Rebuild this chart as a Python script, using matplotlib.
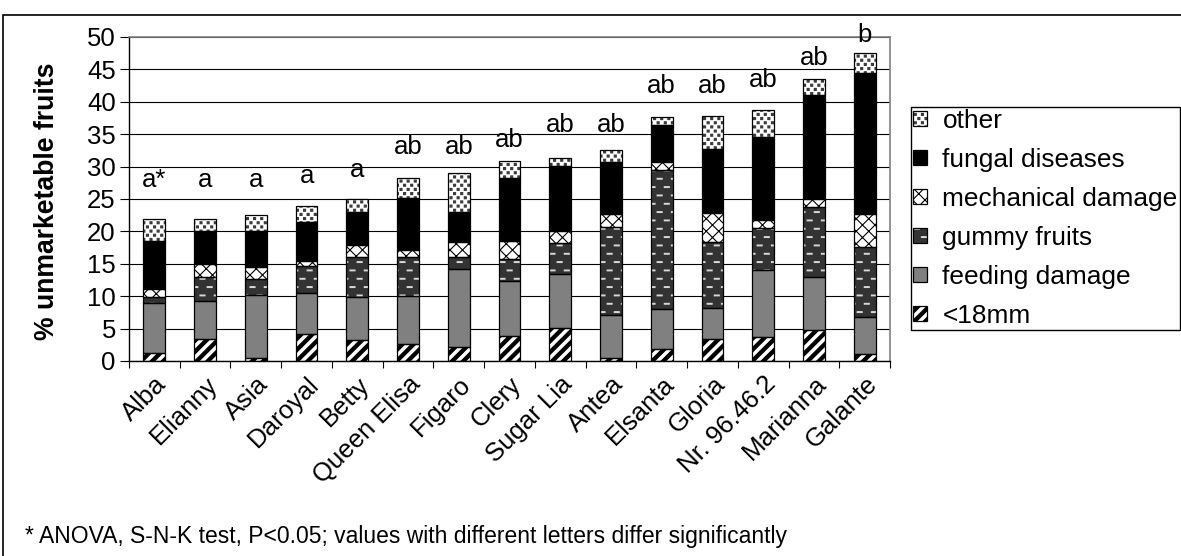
#!/usr/bin/env python3
"""Stacked bars of unmarketable strawberry fruits per cultivar."""

import warnings
import matplotlib
matplotlib.use('Agg')
import matplotlib.pyplot as plt
import matplotlib.hatch as mhatch
from matplotlib.path import Path
from matplotlib.patches import Rectangle
from matplotlib.legend_handler import HandlerTuple
import numpy as np

warnings.filterwarnings('ignore')

cultivars = ['Alba', 'Elianny', 'Asia', 'Daroyal', 'Betty', 'Queen Elisa', 'Figaro',
             'Clery', 'Sugar Lia', 'Antea', 'Elsanta', 'Gloria', 'Nr. 96.46.2',
             'Marianna', 'Galante']
small_18mm = [1.2, 3.4, 0.4, 4.1, 3.2, 2.7, 2.2, 3.9, 5.1, 0.4, 1.8, 3.4, 3.7, 4.8, 1.1]
feeding = [7.8, 5.8, 9.8, 6.4, 6.6, 7.4, 12.0, 8.4, 8.3, 6.7, 6.2, 4.8, 10.3, 8.2, 5.7]
gummy = [0.8, 3.8, 2.4, 4.1, 6.2, 5.9, 1.8, 3.4, 4.8, 13.6, 21.5, 10.2, 6.5, 10.7, 10.8]
mechanical = [1.3, 2.0, 1.9, 0.9, 1.9, 1.1, 2.3, 2.8, 1.9, 2.0, 1.2, 4.5, 1.3, 1.3, 5.1]
fungal = [7.4, 5.0, 5.6, 6.0, 5.1, 8.1, 4.7, 9.8, 10.0, 8.0, 5.7, 9.8, 12.8, 16.1, 21.7]
other = [3.4, 1.9, 2.5, 2.4, 2.0, 3.1, 6.0, 2.5, 1.3, 1.8, 1.2, 5.1, 4.1, 2.4, 3.1]
letters = ['a*', 'a', 'a', 'a', 'a', 'ab', 'ab', 'ab', 'ab', 'ab', 'ab', 'ab', 'ab', 'ab', 'b']
# height (in %) at which each significance letter sits
letter_heights = [26.8, 26.8, 26.8, 27.4, 28.4, 31.9, 31.9, 33.1, 35.4, 35.4,
                  41.3, 41.3, 42.3, 45.7, 49.3]
footnote = '* ANOVA, S-N-K test, P<0.05; values with different letters differ significantly'


# --- custom fill patterns (Excel-like textures), one tile = 1 inch ---
class _Tiles(mhatch.HatchPatternBase):
    symbol = None

    def __init__(self, hatch, density):
        self.polys = self.shapes() if self.symbol in hatch else []
        self.num_vertices = sum(len(p) + 1 for p in self.polys)

    def set_vertices_and_codes(self, vertices, codes):
        i = 0
        for p in self.polys:
            n = len(p)
            vertices[i:i + n] = p
            vertices[i + n] = p[0]
            codes[i] = Path.MOVETO
            codes[i + 1:i + n] = Path.LINETO
            codes[i + n] = Path.CLOSEPOLY
            i += n + 1


class Stripes(_Tiles):
    symbol = 'S'

    def shapes(self):
        n, w = 9, 0.045
        return [[(k / n, 0), (k / n + w, 0), (k / n + w + 1, 1), (k / n + 1, 1)]
                for k in range(-n - 1, n + 1)]


class Dashes(_Tiles):
    symbol = 'D'

    def shapes(self):
        rows, cols, ln, h = 12, 7, 0.05, 0.008
        out = []
        for r in range(rows):
            y = (r + 0.5) / rows
            for c in range(-1, cols + 1):
                x0 = (c + 0.5 * (r % 2)) / cols
                out.append([(x0, y), (x0 + ln, y), (x0 + ln, y + h), (x0, y + h)])
        return out


class Squares(_Tiles):
    symbol = 'Q'

    def shapes(self):
        rows, cols, s = 24, 14, 0.02
        out = []
        for r in range(rows):
            y = (r + 0.3) / rows
            for c in range(-1, cols + 1):
                x0 = (c + 0.5 * (r % 2)) / cols
                out.append([(x0, y), (x0 + s, y), (x0 + s, y + s), (x0, y + s)])
        return out


class Lattice(_Tiles):
    symbol = 'L'

    def shapes(self):
        n = 8
        out = []
        for k in range(-n, n + 1):
            out.append([(k / n, 0), (k / n + 1, 1)])
            out.append([(k / n, 1), (k / n + 1, 0)])
        return out


mhatch._hatch_types.extend([Stripes, Dashes, Squares, Lattice])

plt.rcParams['font.family'] = ['Liberation Sans', 'DejaVu Sans']
plt.rcParams['hatch.linewidth'] = 0.8

# name, values, face colour, pattern colour, pattern
layers = [
    ('<18mm', small_18mm, 'white', 'black', 'S'),
    ('feeding damage', feeding, '#808080', None, None),
    ('gummy fruits', gummy, '#333333', '#d8d8d8', 'D'),
    ('mechanical damage', mechanical, 'white', 'black', 'L'),
    ('fungal diseases', fungal, 'black', None, None),
    ('other', other, 'white', '#3a3a3a', 'Q'),
]

fig = plt.figure(figsize=(11.81, 5.56), dpi=100)
ax = fig.add_axes([129 / 1181, 1 - 361 / 556, 761 / 1181, 324 / 556])

x = np.arange(len(cultivars))
width = 0.43
bottom = np.zeros(len(cultivars))
handles, names = [], []
for name, vals, face, hcol, hatch in layers:
    fill = ax.bar(x, vals, width, bottom=bottom, color=face,
                  edgecolor=hcol or face, linewidth=0, hatch=hatch, zorder=2)
    edge = ax.bar(x, vals, width, bottom=bottom, fill=False,
                  edgecolor='black', linewidth=0.9, zorder=3)
    handles.append((fill, edge))
    names.append(name)
    bottom += np.array(vals)

# significance letters
for xi, hy, lab in zip(x, letter_heights, letters):
    ax.text(xi, hy, lab, ha='center', va='baseline', fontsize=18.5)

ax.set_xlim(-0.5, len(cultivars) - 0.5)
ax.set_ylim(0, 50)
ax.set_yticks(range(0, 51, 5))
ax.yaxis.grid(True, color='black', linewidth=0.8)
ax.set_axisbelow(True)
ax.tick_params(axis='y', direction='out', length=6.5, width=0.8, labelsize=18.5, pad=3)

ax.set_xticks(x)
ax.set_xticklabels(cultivars, rotation=45, ha='right', va='top', rotation_mode='anchor')
ax.set_xticks(np.arange(-0.5, len(cultivars)), minor=True)
ax.tick_params(axis='x', which='major', length=0, labelsize=18.5, pad=8)
ax.tick_params(axis='x', which='minor', direction='out', length=5, width=0.8)

for side in ['top', 'right']:
    ax.spines[side].set_color('#808080')
    ax.spines[side].set_linewidth(1.2)
for side in ['left', 'bottom']:
    ax.spines[side].set_color('black')
    ax.spines[side].set_linewidth(1.0)

fig.text(47 / 1181, 1 - 201 / 556, '% unmarketable fruits', rotation=90,
         ha='center', va='center', fontsize=19.2, fontweight='bold')

leg = fig.legend(handles[::-1], names[::-1], loc='lower left',
                 bbox_to_anchor=(911 / 1181, 1 - 330 / 556), bbox_transform=fig.transFigure,
                 handler_map={tuple: HandlerTuple(ndivide=1)},
                 fontsize=18.9, handlelength=0.52, handleheight=0.52, handletextpad=0.6,
                 labelspacing=0.57, borderpad=0.08, borderaxespad=0,
                 fancybox=False, framealpha=1, edgecolor='black')
leg.get_frame().set_linewidth(1.0)

fig.text(25 / 1181, 1 - 537 / 556, footnote, ha='left', va='center', fontsize=16.5)

# outer chart frame
fig.add_artist(Rectangle((3 / 1181, -0.05), 1.1, 1 - 15 / 556 + 0.05,
                         transform=fig.transFigure, fill=False,
                         edgecolor='black', linewidth=1.2))

plt.savefig('out.png', dpi=100)
